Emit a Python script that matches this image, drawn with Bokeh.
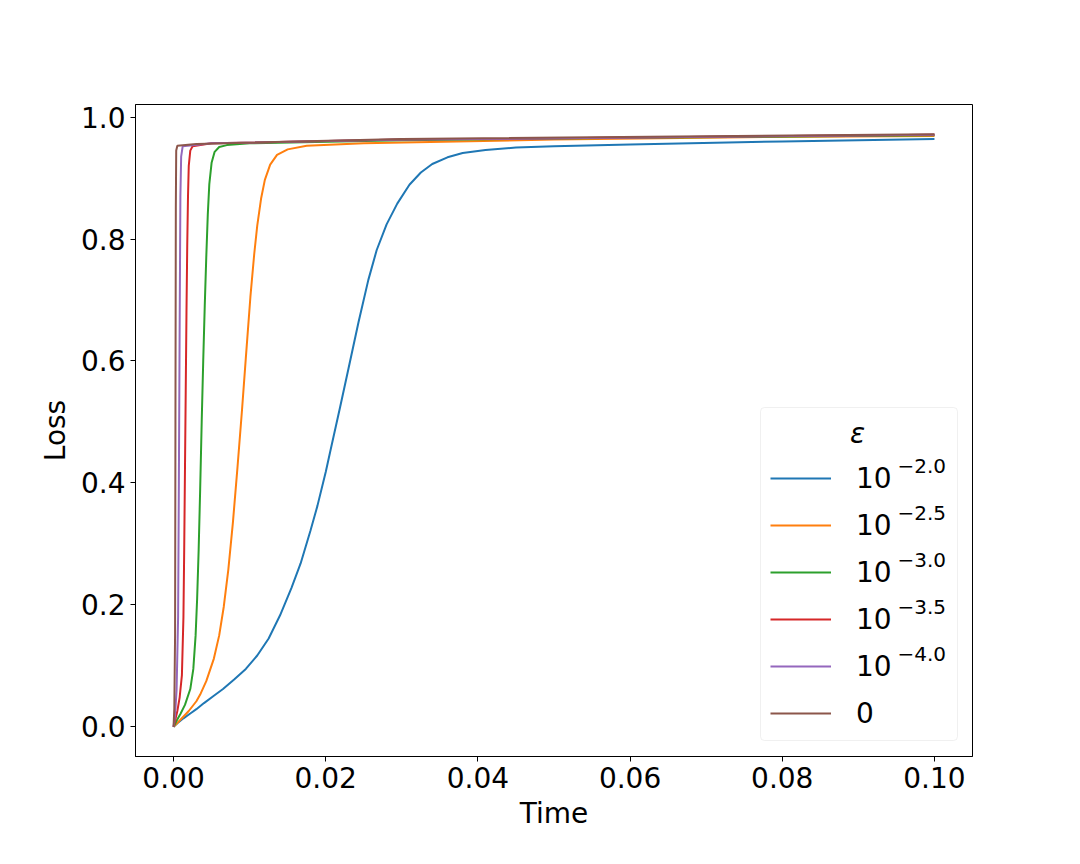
from bokeh.plotting import figure
from bokeh.models import Range1d, FixedTicker, Legend, LegendItem, Label, BoxAnnotation
from bokeh.embed import file_html
from bokeh.resources import INLINE

# ---------------- data ----------------
x_ticks = [0.0, 0.02, 0.04, 0.06, 0.08, 0.10]
x_tick_labels = ["0.00", "0.02", "0.04", "0.06", "0.08", "0.10"]
y_ticks = [0.0, 0.2, 0.4, 0.6, 0.8, 1.0]
y_tick_labels = ["0.0", "0.2", "0.4", "0.6", "0.8", "1.0"]

legend_title = "ε"
legend_bases = ["10", "10", "10", "10", "10", "0"]
legend_exponents = ["−2.0", "−2.5", "−3.0", "−3.5", "−4.0", ""]
colors = ["#1f77b4", "#ff7f0e", "#2ca02c", "#d62728", "#9467bd", "#8c564b"]

time_e20 = [0.0, 0.0005, 0.0013, 0.0022, 0.0030, 0.0040, 0.0053, 0.0065, 0.0080,
            0.0095, 0.0110, 0.0125, 0.0140, 0.0155, 0.0167, 0.0180, 0.0189, 0.0200,
            0.0206, 0.0219, 0.0230, 0.0243, 0.0256, 0.0267, 0.0280, 0.0294, 0.0310,
            0.0325, 0.0340, 0.0360, 0.0380, 0.0410, 0.0450, 0.0500, 0.0600, 0.0800,
            0.1000]
loss_e20 = [0.0, 0.006, 0.014, 0.022, 0.029, 0.039, 0.051, 0.062, 0.078,
            0.095, 0.117, 0.145, 0.183, 0.228, 0.268, 0.322, 0.362, 0.418,
            0.452, 0.525, 0.588, 0.663, 0.733, 0.782, 0.824, 0.858, 0.889,
            0.909, 0.923, 0.934, 0.941, 0.946, 0.950, 0.952, 0.955, 0.960,
            0.964]

time_e25 = [0.0, 0.0010, 0.0020, 0.0030, 0.0035, 0.0043, 0.0053, 0.0060, 0.0066,
            0.0072, 0.0078, 0.0084, 0.0090, 0.0095, 0.0101, 0.0106, 0.0110, 0.0115,
            0.0120, 0.0127, 0.0136, 0.0150, 0.0175, 0.0250, 0.0500, 0.0750, 0.1000]
loss_e25 = [0.0, 0.013, 0.026, 0.042, 0.053, 0.075, 0.112, 0.150, 0.197,
            0.258, 0.335, 0.425, 0.520, 0.605, 0.705, 0.775, 0.822, 0.866,
            0.897, 0.922, 0.938, 0.947, 0.953, 0.957, 0.963, 0.967, 0.969]

time_e30 = [0.0, 0.0004, 0.0009, 0.0015, 0.0022, 0.0026, 0.0029, 0.0031, 0.0033,
            0.0035, 0.0037, 0.0039, 0.0041, 0.0043, 0.0045, 0.0047, 0.0050, 0.0054,
            0.0060, 0.0070, 0.0100, 0.0300, 0.0600, 0.1000]
loss_e30 = [0.0, 0.010, 0.021, 0.036, 0.062, 0.095, 0.150, 0.210, 0.290,
            0.390, 0.500, 0.600, 0.690, 0.770, 0.840, 0.890, 0.925, 0.943,
            0.951, 0.954, 0.957, 0.962, 0.966, 0.970]

time_e35 = [0.0, 0.0002, 0.0005, 0.0008, 0.0011, 0.0013, 0.0014, 0.0015, 0.0016,
            0.0017, 0.0018, 0.0019, 0.0020, 0.0022, 0.0025, 0.0050, 0.0300, 0.1000]
loss_e35 = [0.0, 0.010, 0.026, 0.048, 0.085, 0.180, 0.290, 0.420, 0.550,
            0.680, 0.790, 0.870, 0.920, 0.945, 0.952, 0.957, 0.963, 0.971]

time_e40 = [0.0, 0.0002, 0.0004, 0.0006, 0.0007, 0.0008, 0.0009, 0.0010, 0.0012,
            0.0050, 0.0300, 0.1000]
loss_e40 = [0.0, 0.020, 0.060, 0.180, 0.400, 0.650, 0.870, 0.935, 0.952,
            0.957, 0.963, 0.971]

time_e0 = [0.0, 0.0001, 0.0002, 0.00025, 0.0003, 0.00035, 0.0005, 0.0030, 0.0300, 0.1000]
loss_e0 = [0.0, 0.030, 0.150, 0.500, 0.850, 0.945, 0.953, 0.956, 0.964, 0.972]

series_time = [time_e20, time_e25, time_e30, time_e35, time_e40, time_e0]
series_loss = [loss_e20, loss_e25, loss_e30, loss_e35, loss_e40, loss_e0]

# ---------------- figure ----------------
FONT = "DejaVu Sans"
p = figure(width=1064, height=848, output_backend="svg", toolbar_location=None,
           x_range=Range1d(-0.005, 0.105), y_range=Range1d(-0.0486, 1.0206),
           min_border_left=135, min_border_right=92, min_border_top=104,
           min_border_bottom=92)
p.background_fill_color = "white"
p.border_fill_color = "white"
p.grid.visible = False
p.outline_line_color = "black"
p.outline_line_width = 1
p.outline_line_alpha = 1

p.xaxis.ticker = FixedTicker(ticks=x_ticks)
p.yaxis.ticker = FixedTicker(ticks=y_ticks)
p.xaxis.major_label_overrides = {t: s for t, s in zip(x_ticks, x_tick_labels)}
p.yaxis.major_label_overrides = {t: s for t, s in zip(y_ticks, y_tick_labels)}
p.xaxis.axis_label = "Time"
p.yaxis.axis_label = "Loss"
for ax in (p.xaxis[0], p.yaxis[0]):
    ax.major_label_text_font = FONT
    ax.major_label_text_font_size = "28px"
    ax.major_label_text_color = "black"
    ax.axis_label_text_font = FONT
    ax.axis_label_text_font_size = "28px"
    ax.axis_label_text_font_style = "normal"
    ax.axis_label_text_color = "black"
    ax.major_tick_in = 0
    ax.major_tick_out = 5
    ax.major_tick_line_color = "black"
    ax.minor_tick_line_color = None
    ax.axis_line_color = "black"
    ax.major_label_standoff = 5
    ax.axis_label_standoff = 6

renderers = []
for t, l, c in zip(series_time, series_loss, colors):
    r = p.line(t, l, line_color=c, line_width=2)
    renderers.append(r)

# legend frame
box = BoxAnnotation(left=625, right=822, bottom=16, top=349,
                    left_units="screen", right_units="screen",
                    bottom_units="screen", top_units="screen",
                    fill_color="white", fill_alpha=0.8,
                    line_color="#cccccc", line_width=1, border_radius=4)
p.add_layout(box)

items = [LegendItem(label=b, renderers=[r]) for b, r in zip(legend_bases, renderers)]
legend = Legend(items=items, location=(635, 24), margin=0, padding=0,
                spacing=9, glyph_width=61, glyph_height=38, label_height=38,
                label_width=91, label_standoff=25,
                label_text_font=FONT, label_text_font_size="28px",
                label_text_color="black",
                border_line_alpha=0, background_fill_alpha=0)
p.add_layout(legend)

p.add_layout(Label(x=722, y=323, x_units="screen", y_units="screen",
                   text=legend_title, text_font=FONT, text_font_size="28px",
                   text_font_style="italic", text_align="center",
                   text_baseline="middle", text_color="black"))

for i, e in enumerate(legend_exponents):
    if e:
        p.add_layout(Label(x=762, y=291 - 47 * i, x_units="screen", y_units="screen",
                           text=e, text_font=FONT, text_font_size="20px",
                           text_align="left", text_baseline="alphabetic",
                           text_color="black"))

open("out.html", "w").write(file_html(p, INLINE))
